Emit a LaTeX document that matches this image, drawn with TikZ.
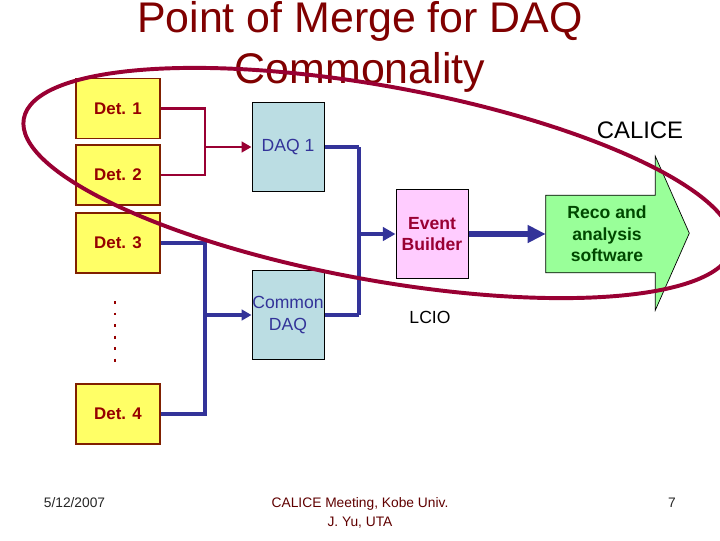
\documentclass[tikz,border=0pt]{standalone}
\usepackage{fontspec}
\setmainfont{Liberation Sans}
\usetikzlibrary{arrows.meta}

\definecolor{titlered}{RGB}{128,0,0}
\definecolor{ringred}{RGB}{153,0,51}
\definecolor{detred}{RGB}{150,0,0}
\definecolor{detedge}{RGB}{128,32,0}
\definecolor{detfill}{RGB}{255,255,102}
\definecolor{daqfill}{RGB}{187,221,227}
\definecolor{daqblue}{RGB}{51,51,153}
\definecolor{evfill}{RGB}{255,204,255}
\definecolor{evred}{RGB}{153,0,51}
\definecolor{recofill}{RGB}{153,255,153}
\definecolor{recogreen}{RGB}{0,72,0}
\definecolor{footred}{RGB}{96,0,0}

\tikzstyle{detbox}=[shape=rectangle,draw=detedge,fill=detfill,line width=0.8pt,minimum width=2.1cm,minimum height=1.5cm,inner sep=0pt,text=detred,font=\fontsize{12}{14}\selectfont\bfseries]
\tikzstyle{daqbox}=[shape=rectangle,draw=black,fill=daqfill,line width=0.7pt,minimum width=1.8cm,minimum height=2.24cm,inner sep=0pt,align=center,text=daqblue,font=\fontsize{12.5}{15.4}\selectfont]
\tikzstyle{evbox}=[daqbox,fill=evfill,text=evred,font=\fontsize{12.5}{15.4}\selectfont\bfseries]
\tikzstyle{recobox}=[shape=rectangle,minimum width=2.725cm,minimum height=1.925cm,inner sep=0pt,align=center,text=recogreen,font=\fontsize{12.5}{15.3}\selectfont\bfseries]
\tikzstyle{redline}=[draw=ringred,line width=2.1pt]
\tikzstyle{blueline}=[draw=daqblue,line width=2.3pt]
\tikzstyle{busline}=[draw=daqblue,line width=3.4pt]
\tikzstyle{redarrow}=[redline,-{Triangle[length=7pt,width=7.5pt]}]
\tikzstyle{bluearrow}=[blueline,-{Triangle[length=7pt,width=7.5pt]}]
\tikzstyle{ringline}=[draw=ringred,line width=2.8pt]
\tikzstyle{footer}=[inner sep=0pt,font=\fontsize{9.8}{13.5}\selectfont]

\begin{document}
\begin{tikzpicture}[x=0.025cm,y=-0.025cm]
\useasboundingbox[fill=white] (0,0) rectangle (720,540);
% title
\node[anchor=base,inner sep=0pt,text=titlered,font=\fontsize{30.5}{36}\selectfont] (title1) at (360,32) {Point of Merge for DAQ};
\node[anchor=base,inner sep=0pt,text=titlered,font=\fontsize{30.5}{36}\selectfont] (title2) at (360,83) {Commonality};
% detectors
\node[detbox] (det1) at (118,108.5) {Det. 1};
\node[detbox] (det2) at (118,175) {Det. 2};
\node[detbox] (det3) at (118,243) {Det. 3};
\node[detbox] (det4) at (118,414) {Det. 4};
\coordinate (dots1) at (115,301);
\coordinate (dots2) at (115,362);
\draw[draw=detred,line width=2.1pt,dash pattern=on 2.1pt off 6.1pt] (dots1) -- (dots2);
% DAQ boxes
\node[daqbox] (daq1) at (288,147) {DAQ 1};
\node[daqbox] (cdaq) at (288,315) {Common\\DAQ};
\node[evbox] (evb) at (432,234) {Event\\Builder};
% reco arrow
\node[recobox] (reco) at (600.5,234) {};
\draw[fill=recofill,line width=0.5pt] (reco.north west) -- (reco.north east) -- ++(0,-39) -- ++(34,77) -- ++(-34,77) -- (reco.south east) -- (reco.south west) -- cycle;
\node[recobox] (recotext) at (607,234) {Reco and\\analysis\\software};
% labels
\node[font=\fontsize{17}{20}\selectfont] (calice) at (640,130) {CALICE};
\node[font=\fontsize{12.5}{15}\selectfont] (lcio) at (430,317) {LCIO};
% connectors
\coordinate (m1) at (205,147);
\coordinate (m2) at (205,315);
\draw[redline] (det1.east) -| (m1) |- (det2.east);
\draw[redarrow] (m1) -- (daq1.west);
\draw[blueline] (det3.east) -| (m2) |- (det4.east);
\draw[bluearrow] (m2) -- (cdaq.west);
\coordinate (b1) at (359,147);
\coordinate (b2) at (359,315);
\coordinate (b3) at (359,234);
\draw[busline] (daq1.east) -- (b1);
\draw[busline] (cdaq.east) -- (b2);
\draw[draw=daqblue,line width=2.6pt] (b1) -- (b2);
\draw[draw=daqblue,line width=3pt,-{Triangle[length=9pt,width=9.5pt]}] (b3) -- (evb.west);
\draw[draw=daqblue,line width=4.5pt,-{Triangle[length=12.8pt,width=12pt]}] (evb.east) -- (reco.west);
% merge ring
\draw[ringline,rotate around={-10.3:(378,183)}] (378,183) ellipse (360 and 97);
% footer
\node[footer,text=black!85] (date) at (74.5,503) {5/12/2007};
\node[footer,text=footred,align=center] (meeting) at (360,512.5) {CALICE Meeting, Kobe Univ.\\J. Yu, UTA};
\node[footer,text=black!85] (page) at (672,503) {7};
\end{tikzpicture}
\end{document}
